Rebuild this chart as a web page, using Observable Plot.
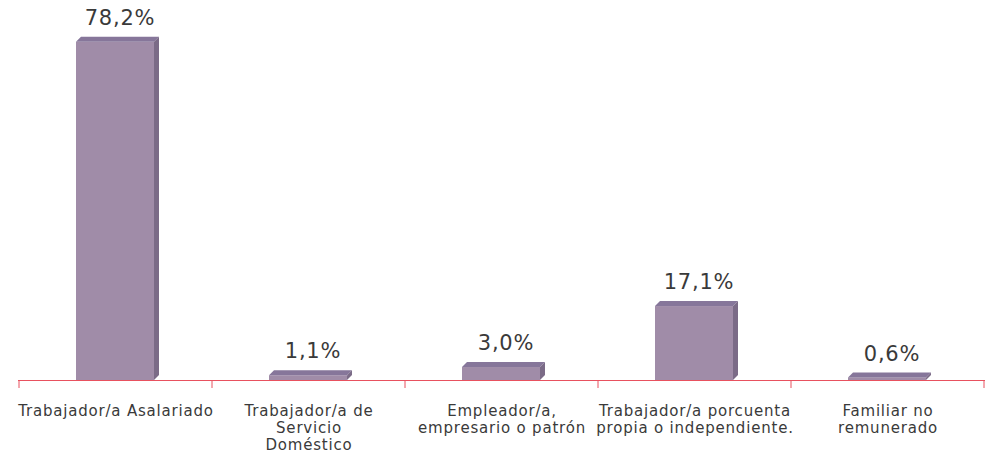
<!DOCTYPE html>
<html><head><meta charset="utf-8">
<script src="https://cdn.jsdelivr.net/npm/d3@7"></script>
<script src="https://cdn.jsdelivr.net/npm/@observablehq/plot@0.6"></script>
<style>body{margin:0;background:#fff} svg text{letter-spacing:0.8px}</style>
</head><body><div id="chart"></div>
<script>
const categories = [
  "Trabajador/a Asalariado",
  "Trabajador/a de\nServicio\nDoméstico",
  "Empleador/a,\nempresario o patrón",
  "Trabajador/a porcuenta\npropia o independiente.",
  "Familiar no\nremunerado"
];
const values = [78.2, 1.1, 3.0, 17.1, 0.6];
const valueLabels = ["78,2%", "1,1%", "3,0%", "17,1%", "0,6%"];
const data = categories.map((c, i) => ({category: c, value: values[i], label: valueLabels[i]}));

const FRONT = "#a08ca8", TOP = "#86769a", SIDE = "#7b6b87", AXIS = "#e8515f";
const DEPTH = 5, INSET_L = 57, INSET_R = 58;

function faces(index, scales) {
  const x = scales.x, y = scales.y;
  const bw = typeof x.bandwidth === "function" ? x.bandwidth() : scales.scales.x.bandwidth;
  const g = d3.create("svg:g");
  const y0 = y(0);
  data.forEach(d => {
    const xs = x(d.category);
    const x0 = xs + INSET_L, x1 = xs + bw - INSET_R, yt = y(d.value);
    g.append("polygon")
      .attr("points", [[x0, yt], [x0 + DEPTH, yt - DEPTH], [x1 + DEPTH, yt - DEPTH], [x1, yt]].join(" "))
      .attr("fill", TOP);
    g.append("polygon")
      .attr("points", [[x1, yt], [x1 + DEPTH, yt - DEPTH], [x1 + DEPTH, y0 - DEPTH], [x1, y0]].join(" "))
      .attr("fill", SIDE);
  });
  // band boundary ticks
  const edges = categories.map(c => x(c)).concat([x(categories[categories.length - 1]) + bw]);
  edges.forEach(e => {
    g.append("line").attr("x1", e).attr("x2", e).attr("y1", y0).attr("y2", y0 + 8)
      .attr("stroke", AXIS).attr("stroke-width", 1);
  });
  return g.node();
}

const chart = Plot.plot({
  width: 985, height: 459,
  marginLeft: 18, marginRight: 0, marginTop: 34, marginBottom: 79,
  x: {domain: categories, padding: 0, axis: null},
  y: {domain: [0, 80], axis: null},
  style: {fontFamily: "DejaVu Sans", background: "#fff", color: "#333"},
  marks: [
    Plot.barY(data, {x: "category", y: "value", fill: FRONT, insetLeft: INSET_L, insetRight: INSET_R}),
    faces,
    Plot.ruleY([0], {stroke: AXIS, strokeWidth: 1}),
    Plot.text(data, {x: "category", y: "value", text: "label", dy: -24, dx: 4, fontSize: 21, fill: "#3a3a3a"}),
    Plot.text(data, {x: "category", y: 0, text: "category", lineAnchor: "top", dy: 23, fontSize: 15, lineHeight: 1.15, fill: "#3a3a3a"})
  ]
});
document.getElementById("chart").appendChild(chart);
</script>
</body></html>
